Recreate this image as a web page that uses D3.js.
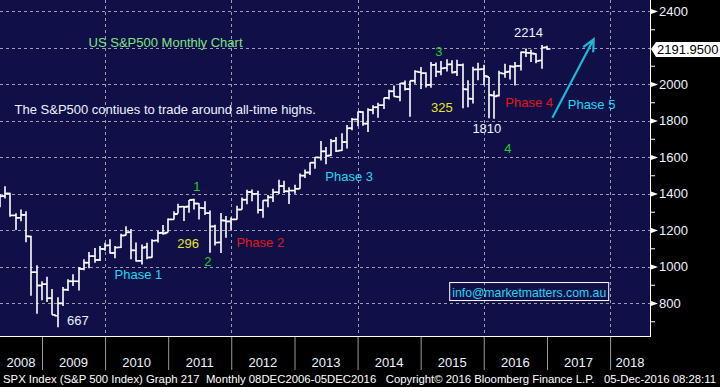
<!DOCTYPE html>
<html>
<head>
<meta charset="utf-8">
<script src="https://cdn.jsdelivr.net/npm/d3@7"></script>
<style>
body { margin:0; background:#000; }
svg text { font-family:"Liberation Sans", Arial, sans-serif; }
</style>
</head>
<body>
<div id="chart"></div>
<script>
// monthly SPX bars, Apr 2008 - Dec 2016 (read off the chart / approx)
var months = ["2008-04","2008-05","2008-06","2008-07","2008-08","2008-09","2008-10","2008-11","2008-12",
  "2009-01","2009-02","2009-03","2009-04","2009-05","2009-06","2009-07","2009-08","2009-09","2009-10","2009-11","2009-12",
  "2010-01","2010-02","2010-03","2010-04","2010-05","2010-06","2010-07","2010-08","2010-09","2010-10","2010-11","2010-12",
  "2011-01","2011-02","2011-03","2011-04","2011-05","2011-06","2011-07","2011-08","2011-09","2011-10","2011-11","2011-12",
  "2012-01","2012-02","2012-03","2012-04","2012-05","2012-06","2012-07","2012-08","2012-09","2012-10","2012-11","2012-12",
  "2013-01","2013-02","2013-03","2013-04","2013-05","2013-06","2013-07","2013-08","2013-09","2013-10","2013-11","2013-12",
  "2014-01","2014-02","2014-03","2014-04","2014-05","2014-06","2014-07","2014-08","2014-09","2014-10","2014-11","2014-12",
  "2015-01","2015-02","2015-03","2015-04","2015-05","2015-06","2015-07","2015-08","2015-09","2015-10","2015-11","2015-12",
  "2016-01","2016-02","2016-03","2016-04","2016-05","2016-06","2016-07","2016-08","2016-09","2016-10","2016-11","2016-12"];
var opens = [1326,1386,1400,1280,1267,1283,1164,969,896,
  903,826,730,798,873,919,919,987,1021,1057,1036,1096,
  1116,1074,1105,1171,1188,1088,1031,1107,1050,1143,1185,1186,
  1258,1289,1328,1329,1366,1345,1320,1292,1220,1132,1251,1247,
  1258,1312,1366,1408,1398,1310,1362,1379,1407,1441,1412,1416,
  1426,1498,1515,1569,1597,1631,1609,1689,1636,1682,1758,1806,
  1846,1783,1857,1873,1884,1924,1960,1929,2004,1972,2018,2065,
  2059,1996,2105,2067,2088,2108,2067,2104,1970,1919,2080,2082,
  2039,1937,1937,2057,2068,2094,2099,2173,2171,2165,2129,2201];
var highs = [1397,1440,1404,1292,1313,1303,1168,1007,919,
  944,877,832,888,930,957,997,1040,1080,1101,1113,1130,
  1150,1113,1180,1220,1206,1131,1120,1130,1150,1196,1228,1263,
  1303,1344,1332,1364,1371,1346,1357,1307,1229,1293,1277,1269,
  1333,1378,1420,1422,1415,1363,1392,1426,1475,1470,1434,1448,
  1510,1531,1570,1598,1688,1655,1698,1710,1730,1775,1814,1849,
  1851,1867,1884,1897,1924,1968,1992,2005,2019,2018,2075,2093,
  2065,2120,2118,2126,2135,2130,2133,2113,2021,2094,2116,2105,
  2039,1963,2072,2111,2103,2120,2178,2194,2188,2169,2214,2210];
var lows = [1324,1373,1272,1200,1248,1133,840,741,815,
  805,735,667,784,866,893,869,979,991,1020,1030,1086,
  1071,1045,1101,1170,1040,1028,1011,1040,1048,1132,1174,1186,
  1257,1290,1249,1294,1312,1258,1282,1075,1115,1074,1158,1202,
  1258,1312,1341,1357,1291,1267,1325,1354,1397,1403,1343,1398,
  1426,1485,1502,1536,1581,1560,1605,1627,1633,1646,1746,1768,
  1771,1737,1834,1815,1863,1915,1930,1905,1965,1821,2002,1973,
  1981,1980,2039,2048,2068,2057,2044,1867,1872,1893,2020,1993,
  1812,1810,1932,2034,2025,1992,2074,2148,2120,2114,2084,2187];
var closes = [1385,1400,1280,1267,1283,1166,969,896,903,
  826,735,798,873,919,919,987,1021,1057,1036,1096,1115,
  1074,1104,1169,1187,1089,1031,1102,1049,1141,1183,1181,1258,
  1286,1327,1326,1364,1345,1321,1292,1219,1131,1253,1247,1258,
  1312,1366,1408,1398,1310,1362,1379,1407,1441,1412,1416,1426,
  1498,1515,1569,1598,1631,1606,1686,1633,1682,1757,1806,1848,
  1783,1859,1872,1884,1924,1960,1931,2003,1972,2018,2068,2059,
  1995,2105,2068,2086,2107,2063,2104,1972,1920,2079,2080,2044,
  1940,1932,2060,2065,2097,2099,2174,2171,2168,2126,2199,2192];

var yTicks = [800,1000,1200,1400,1600,1800,2000,2200,2400];
var yMinor = [700,900,1100,1300,1500,1700,1900,2100,2300];
var years = [2008,2009,2010,2011,2012,2013,2014,2015,2016,2017,2018];
var gridYears = [2010,2012,2014,2016,2018];
var lastPrice = 2191.95;

var notes = [
  {t:"US S&P500 Monthly Chart", d:"2010-12-17", v:2230, c:"#7fe47f"},
  {t:"The S&P500 contiues to trade around all-time highs.", d:"2010-12-15", v:1863, c:"#eef2ff"},
  {t:"667", d:"2009-07-27", v:707, c:"#eef2ff"},
  {t:"Phase 1", d:"2010-07-13", v:959, c:"#22d8ef"},
  {t:"296", d:"2011-04-27", v:1129, c:"#e6e628"},
  {t:"1", d:"2011-06-16", v:1441, c:"#22d022"},
  {t:"2", d:"2011-08-19", v:1030, c:"#22d022"},
  {t:"Phase 2", d:"2012-06-17", v:1134, c:"#e41818"},
  {t:"Phase 3", d:"2013-11-13", v:1496, c:"#22d8ef"},
  {t:"3", d:"2015-04-16", v:2181, c:"#22d022"},
  {t:"325", d:"2015-05-04", v:1874, c:"#e6e628"},
  {t:"1810", d:"2016-01-19", v:1759, c:"#eef2ff"},
  {t:"4", d:"2016-05-19", v:1649, c:"#22d022"},
  {t:"2214", d:"2016-09-16", v:2285, c:"#eef2ff"},
  {t:"Phase 4", d:"2016-09-20", v:1901, c:"#e41818"},
  {t:"Phase 5", d:"2017-09-16", v:1890, c:"#22d8ef"}
];

var W = 720, H = 387;
var pw = 650, ph = 336;

var parseM = d3.timeParse("%Y-%m");
var parseD = d3.timeParse("%Y-%m-%d");

// bars sit at the end of their month
var data = months.map(function(m, i){
  return { date: d3.timeMonth.offset(parseM(m), 1), open: opens[i], high: highs[i], low: lows[i], close: closes[i] };
});

var svg = d3.select("#chart").append("svg")
    .attr("width", W)
    .attr("height", H)
    .style("background", "#000");

var x = d3.scaleTime()
    .domain([new Date(2009,0,1), new Date(2017,0,1)])
    .range([42, 547]);
var y = d3.scaleLinear()
    .domain([800, 2400])
    .range([303, 11]);

svg.append("rect")
    .attr("width", pw).attr("height", ph)
    .attr("fill", "#100f48");

svg.append("clipPath").attr("id", "clip")
  .append("rect").attr("width", pw).attr("height", ph);

var g = svg.append("g").attr("clip-path", "url(#clip)");

// dotted grid
g.selectAll(".hgrid").data(yTicks).enter()
  .append("line")
    .attr("x1", 0).attr("x2", pw)
    .attr("y1", function(d){ return Math.round(y(d)) + 0.5; })
    .attr("y2", function(d){ return Math.round(y(d)) + 0.5; })
    .attr("stroke", "#9d9db4")
    .attr("stroke-dasharray", "3,3");

g.selectAll(".vgrid").data(gridYears).enter()
  .append("line")
    .attr("x1", function(d){ return Math.round(x(new Date(d,0,1))) + 0.5; })
    .attr("x2", function(d){ return Math.round(x(new Date(d,0,1))) + 0.5; })
    .attr("y1", 0).attr("y2", ph)
    .attr("stroke", "#9d9db4")
    .attr("stroke-dasharray", "3,3");

// OHLC bars
var bars = g.selectAll(".bar").data(data).enter()
  .append("g")
    .attr("class", "bar")
    .attr("transform", function(d){ return "translate(" + Math.round(x(d.date)) + ",0)"; })
    .attr("stroke", "#fff")
    .attr("stroke-width", 1.6);

bars.append("line")
    .attr("x1", 0).attr("x2", 0)
    .attr("y1", function(d){ return y(d.high); })
    .attr("y2", function(d){ return y(d.low); });
bars.append("line")
    .attr("x1", -3.5).attr("x2", 0)
    .attr("y1", function(d){ return y(d.open); })
    .attr("y2", function(d){ return y(d.open); });
bars.append("line")
    .attr("x1", 0).attr("x2", 3.5)
    .attr("y1", function(d){ return y(d.close); })
    .attr("y2", function(d){ return y(d.close); });

// annotations
g.selectAll(".note").data(notes).enter()
  .append("text")
    .attr("x", function(d){ return x(parseD(d.d)); })
    .attr("y", function(d){ return y(d.v); })
    .attr("dy", "0.35em")
    .attr("text-anchor", "middle")
    .attr("font-size", "13px")
    .attr("fill", function(d){ return d.c; })
    .text(function(d){ return d.t; });

// phase 5 arrow
var a0 = [x(parseD("2017-02-01")), y(1815)];
var a1 = [x(parseD("2017-09-28")), y(2245)];
var ang = Math.atan2(a1[1] - a0[1], a1[0] - a0[0]);
var hl = 13;
g.append("path")
    .attr("d", "M" + a0 + "L" + a1 +
      "M" + [a1[0] - hl*Math.cos(ang - 0.45), a1[1] - hl*Math.sin(ang - 0.45)] + "L" + a1 +
      "L" + [a1[0] - hl*Math.cos(ang + 0.45), a1[1] - hl*Math.sin(ang + 0.45)])
    .attr("fill", "none")
    .attr("stroke", "#1bb9d2")
    .attr("stroke-width", 2.2);

// info box
var ib = g.append("g")
    .attr("transform", "translate(" + x(parseD("2016-09-20")) + "," + y(860) + ")");
ib.append("rect")
    .attr("x", -79.5).attr("y", -9.5)
    .attr("width", 159).attr("height", 18)
    .attr("fill", "none").attr("stroke", "#fff");
ib.append("text")
    .attr("text-anchor", "middle")
    .attr("dy", "0.36em")
    .attr("font-size", "13px")
    .attr("fill", "#22d8ef")
    .attr("textLength", 154)
    .attr("lengthAdjust", "spacingAndGlyphs")
    .text("info@marketmatters.com.au");

// frame lines
svg.append("line").attr("x1", pw + 0.5).attr("x2", pw + 0.5).attr("y1", 0).attr("y2", ph + 1)
    .attr("stroke", "#fff");
svg.append("line").attr("x1", 0).attr("x2", pw + 1).attr("y1", ph + 0.5).attr("y2", ph + 0.5)
    .attr("stroke", "#fff");

// right axis (the tick under the last-price tag is hidden, as on the terminal)
var py = Math.round(y(lastPrice));
var shownTicks = yTicks.filter(function(d){ return Math.abs(y(d) - py) > 10; });
var yAxis = svg.append("g")
    .attr("transform", "translate(" + (pw + 1) + ",0)")
    .call(d3.axisRight(y).tickValues(shownTicks).tickSize(0).tickPadding(8).tickFormat(d3.format("d")));
yAxis.select(".domain").remove();
yAxis.selectAll("text")
    .attr("fill", "#eef2ff")
    .attr("font-size", "13px")
    .attr("font-family", "Liberation Sans, Arial, sans-serif");
yAxis.selectAll(".tick").append("path")
    .attr("d", "M0,-2.5L7,0L0,2.5Z")
    .attr("fill", "#fff");

var yMin = svg.append("g")
    .attr("transform", "translate(" + (pw + 1) + ",0)")
    .call(d3.axisRight(y).tickValues(yMinor).tickSize(4).tickFormat(""));
yMin.select(".domain").remove();
yMin.selectAll("line").attr("stroke", "#fff");

// last price tag
svg.append("path")
    .attr("d", "M" + (pw + 1) + "," + py + "L" + (pw + 6) + "," + (py - 7) + "L" + W + "," + (py - 7) +
      "L" + W + "," + (py + 8) + "L" + (pw + 6) + "," + (py + 8) + "Z")
    .attr("fill", "#fff");
svg.append("text")
    .attr("x", pw + 7).attr("y", py)
    .attr("dy", "0.38em")
    .attr("font-size", "13px")
    .attr("fill", "#000")
    .text(d3.format(".4f")(lastPrice));

// bottom axis: year separators + centred labels
var xAxis = svg.append("g")
    .attr("transform", "translate(0," + (ph + 1) + ")")
    .call(d3.axisBottom(x).tickValues(years.slice(1).map(function(d){ return new Date(d,0,1); }))
      .tickSize(33).tickFormat(""));
xAxis.select(".domain").remove();
xAxis.selectAll("line").attr("stroke", "#9a9a9a");

svg.selectAll(".yr").data(years).enter()
  .append("text")
    .attr("x", function(d){
      var a = Math.max(0, x(new Date(d,0,1))), b = Math.min(pw, x(new Date(d+1,0,1)));
      return (a + b) / 2;
    })
    .attr("y", 362)
    .attr("dy", "0.35em")
    .attr("text-anchor", "middle")
    .attr("font-size", "13px")
    .attr("fill", "#eef2ff")
    .text(function(d){ return d; });

svg.append("text")
    .attr("x", 3).attr("y", 379)
    .attr("dy", "0.35em")
    .attr("font-size", "11px")
    .attr("font-family", "DejaVu Sans Condensed, DejaVu Sans, sans-serif")
    .attr("fill", "#fff")
    .attr("textLength", 713)
    .attr("lengthAdjust", "spacingAndGlyphs")
    .attr("xml:space", "preserve")
    .text("SPX Index (S&P 500 Index) Graph 217  Monthly 08DEC2006-05DEC2016   Copyright\u00a9 2016 Bloomberg Finance L.P.   05-Dec-2016 08:28:11");
</script>
</body>
</html>
